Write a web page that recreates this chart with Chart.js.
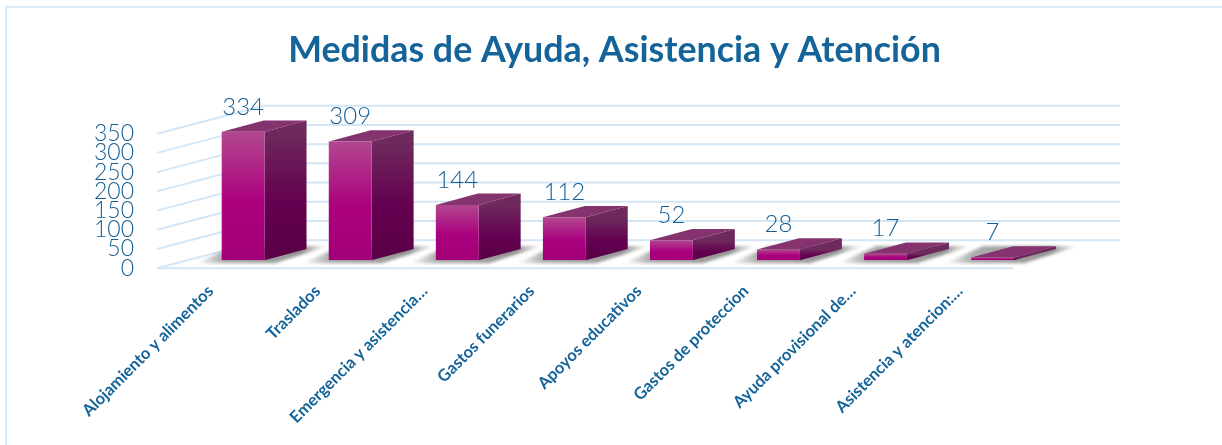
<!DOCTYPE html>
<html><head><meta charset="utf-8">
<style>
html,body{margin:0;padding:0;background:#fff;overflow:hidden}
#wrap{position:relative;width:1222px;height:445px}
#frame{position:absolute;left:5px;top:6px;width:1215px;height:445px;border:2px solid #d9ecfb;border-right-color:#e6f1fa;box-sizing:content-box;pointer-events:none}
canvas{position:absolute;left:0;top:0}
</style>
<script src="https://cdn.jsdelivr.net/npm/chart.js@4"></script>
</head><body>
<div id="wrap"><canvas id="c" width="1222" height="445"></canvas><div id="frame"></div></div>
<script>
const chartTitle = "Medidas de Ayuda, Asistencia y Atención";
const categories = ["Alojamiento y alimentos","Traslados","Emergencia y asistencia…","Gastos funerarios","Apoyos educativos","Gastos de proteccion","Ayuda provisional de…","Asistencia y atencion:…"];
const values = [334,309,144,112,52,28,17,7];
const axisMax = 350;
const axisStep = 50;

const wallDepth = {x:106.5, y:-28};
const barShift = {x:32.6, y:-8};
const barDepth = {x:42, y:-11.3};

function vGrad(ctx, top, bottom, stops){
  const g = ctx.createLinearGradient(0, top, 0, bottom === top ? top+1 : bottom);
  stops.forEach(s => g.addColorStop(s[0], s[1]));
  return g;
}
const frontStops = [[0,"#b2478f"],[0.55,"#ab007e"],[1,"#a20078"]];
const sideStops  = [[0,"#6e2a5c"],[0.55,"#640050"],[1,"#590046"]];

const wallPlugin = {
  id:"walls",
  beforeDatasetsDraw(chart){
    const {ctx, chartArea:a, scales:{y}} = chart;
    ctx.save();
    ctx.strokeStyle = "#d3e6f6";
    ctx.lineWidth = 2;
    y.ticks.forEach(t => {
      const py = y.getPixelForValue(t.value);
      ctx.beginPath();
      ctx.moveTo(a.left, py);
      ctx.lineTo(a.left+wallDepth.x, py+wallDepth.y);
      ctx.lineTo(a.right+wallDepth.x, py+wallDepth.y);
      ctx.stroke();
    });
    const y0 = y.getPixelForValue(0);
    ctx.beginPath(); ctx.moveTo(a.left,y0); ctx.lineTo(a.right,y0); ctx.stroke();
    ctx.restore();
  }
};
const barsPlugin = {
  id:"bars3d",
  beforeDatasetsDraw(chart){
    const ctx = chart.ctx;
    ctx.save();
    ctx.translate(barShift.x, barShift.y);
    const meta = chart.getDatasetMeta(0);
    meta.data.forEach(b => {
      const L=b.x-b.width/2, R=b.x+b.width/2, T=b.y, B=b.base;
      ctx.save();
      ctx.filter = "blur(1.5px)";
      const g = ctx.createLinearGradient(L-26,0,R+barDepth.x+22,0);
      g.addColorStop(0,"rgba(120,120,120,0)");
      g.addColorStop(0.2,"rgba(120,120,120,.6)");
      g.addColorStop(0.8,"rgba(100,100,100,.7)");
      g.addColorStop(1,"rgba(120,120,120,0)");
      ctx.fillStyle = g;
      ctx.beginPath();
      ctx.moveTo(L-26,B+3);
      ctx.lineTo(R+10,B+3);
      ctx.lineTo(R+barDepth.x+22,B+barDepth.y-3);
      ctx.lineTo(L+12,B+barDepth.y-3);
      ctx.closePath();
      ctx.fill();
      ctx.restore();
      ctx.fillStyle = vGrad(ctx,T,B,sideStops);
      ctx.beginPath();
      ctx.moveTo(R,T); ctx.lineTo(R+barDepth.x,T+barDepth.y);
      ctx.lineTo(R+barDepth.x,B+barDepth.y); ctx.lineTo(R,B);
      ctx.closePath(); ctx.fill();
      ctx.fillStyle = "#85336e";
      ctx.beginPath();
      ctx.moveTo(L,T); ctx.lineTo(L+barDepth.x,T+barDepth.y);
      ctx.lineTo(R+barDepth.x,T+barDepth.y); ctx.lineTo(R,T);
      ctx.closePath(); ctx.fill();
    });
  },
  afterDatasetsDraw(chart){
    const ctx = chart.ctx;
    const meta = chart.getDatasetMeta(0);
    ctx.fillStyle = "#145e93";
    ctx.font = "300 24px Lato";
    ctx.textAlign = "center";
    ctx.textBaseline = "middle";
    meta.data.forEach((b,i) => ctx.fillText(String(values[i]), b.x, b.y-25));
    ctx.restore();
  }
};

new Chart(document.getElementById("c"),{
  type:"bar",
  data:{labels:categories,datasets:[{
    data:values,
    categoryPercentage:1,
    barPercentage:0.4,
    borderWidth:0,
    backgroundColor(c){
      const ch=c.chart; if(!ch.chartArea||c.raw===undefined) return "#ab007e";
      const y=ch.scales.y;
      return vGrad(ch.ctx,y.getPixelForValue(c.raw),y.getPixelForValue(0),frontStops);
    }
  }]},
  options:{
    responsive:false,animation:false,
    layout:{padding:{left:7,right:0,top:0,bottom:0}},
    plugins:{
      legend:{display:false},tooltip:{enabled:false},
      title:{display:true,text:chartTitle,color:"#14649a",
        font:{family:"Lato",size:35.8,weight:"bold"},
        padding:{top:28.5,bottom:62.2}}
    },
    scales:{
      x:{grid:{display:false},border:{display:false},
        ticks:{autoSkip:false,maxRotation:45,minRotation:45,color:"#14649a",padding:5,
          font:{family:"Lato",size:16.5,weight:"bold"}},
        afterFit(s){s.height=176.7;}},
      y:{min:0,max:axisMax,grid:{display:false},border:{display:false},
        ticks:{stepSize:axisStep,autoSkip:false,color:"#145e93",padding:15,font:{family:"Lato",size:23,weight:"300"}},
        afterFit(s){s.width=150;}},
      spacer:{type:"linear",position:"right",display:true,grid:{display:false},border:{display:false},
        ticks:{display:false},afterFit(s){s.width=208.5;}}
    }
  },
  plugins:[wallPlugin,barsPlugin]
});
</script>
</body></html>
